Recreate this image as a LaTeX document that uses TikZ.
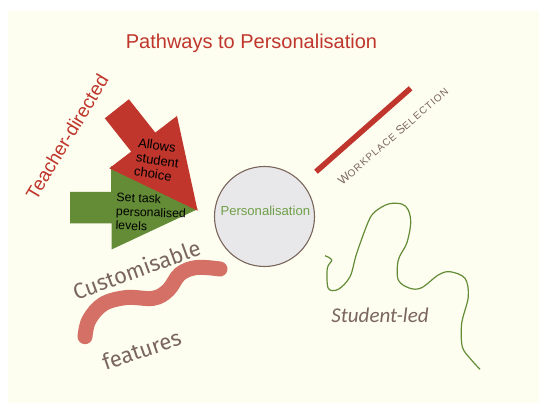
\documentclass[tikz,border=0pt]{standalone}
\usepackage{fontspec}
\setmainfont{Liberation Sans}
\newfontfamily\firafont{Fira Sans}
\newfontfamily\handfont{Carlito}
\usetikzlibrary{calc,positioning}
\definecolor{cream}{RGB}{253,253,240}
\definecolor{pathred}{RGB}{192,54,44}
\definecolor{arrowgreen}{RGB}{100,140,55}
\definecolor{textgreen}{RGB}{112,160,72}
\definecolor{inkbrown}{RGB}{122,102,92}
\definecolor{squiggle}{RGB}{212,112,102}
\definecolor{hubgray}{RGB}{232,232,234}

\begin{document}
\begin{tikzpicture}[x=1pt, y=-1pt,
  bent/.style={font=\firafont\fontsize{22}{22}\selectfont, text=inkbrown, inner sep=0pt},
  arrowtext/.style={align=left, inner sep=0pt, text=black},
  hub/.style={circle, draw=inkbrown, line width=1.1pt, fill=hubgray, minimum size=100pt, inner sep=0pt}]
  \useasboundingbox (0,0) rectangle (539,403);
  % Background
  \fill[cream] (8,11) rectangle (539,403);
  \node[anchor=base, text=pathred, font=\fontsize{20}{22}\selectfont] (title) at (251.5,49) {Pathways to Personalisation};
  % Teacher-directed arrows
  \node[rotate=59, text=pathred, font=\fontsize{19}{20}\selectfont, inner sep=0pt] (teacher) at (67,137) {Teacher-directed};
  \fill[arrowgreen] (70,192) -- (111,192) -- (111,166) -- (198,209) -- (111.5,249.5) -- (111.5,223.5) -- (70,223.5) -- cycle;
  \fill[pathred] (128.9,99.3) -- (155.3,132.6) -- (177,116) -- (197.6,210.7) -- (109.3,168.3) -- (131.2,151.6) -- (104.8,118.3) -- cycle;
  \node[arrowtext, rotate=-8, font=\fontsize{13}{14.5}\selectfont] (choice) at (157.5,160) {Allows\\student\\choice};
  \node[arrowtext, rotate=-2, font=\fontsize{12.3}{14}\selectfont] (levels) at (151,212.5) {Set task\\personalised\\levels};
  % Hub
  \node[hub] (pers) at (264.5,216.5) {};
  \node[text=textgreen, font=\fontsize{13.1}{14}\selectfont, inner sep=0pt] (perstext) at (265.3,210.7) {Personalisation};
  % Workplace selection
  \coordinate (wpA) at (316,171.7);
  \coordinate (wpB) at (410.6,88.3);
  \draw[pathred, line width=5.5pt] (wpA) -- (wpB);
  \node[rotate=41, text=inkbrown, inner sep=0pt, font=\addfontfeature{LetterSpace=10}] (workplace) at (393,136)
    {\fontsize{12}{12}\selectfont W\fontsize{10}{12}\selectfont ORKPLACE \fontsize{12}{12}\selectfont S\fontsize{10}{12}\selectfont ELECTION};
  % Customisable features
  \draw[squiggle, line width=15pt, line cap=round] plot[smooth, tension=0.6] coordinates
    {(85,336.7) (89,320) (103.3,304) (126.7,297.5) (153.3,298.3) (168.3,290) (180,274) (196.7,267.5) (220,269)};
  \node[bent, rotate=20] (custom) at (136.5,269.5) {Customisable};
  \node[bent, rotate=19] (features) at (141.5,350) {features};
  % Student-led
  \draw[arrowgreen, line width=1.2pt] plot[smooth, tension=0.55] coordinates
    {(325,255.7) (331.7,260) (327.3,268.3) (328.3,288.3) (338.3,289.3) (350,276.7) (356.7,253.3) (368.3,221.7) (375,211.7) (388.3,204) (401.7,204) (408.3,210) (410.7,223.3) (406.7,243.3) (398.3,260) (398.3,280) (410,288.3) (421.7,287.7) (438.3,275) (450,271.7) (465,278.3) (468.3,296.7) (461.7,323.3) (462.3,346.7) (470,358.3) (480,369.3)};
  \node[text=inkbrown, font=\handfont\itshape\fontsize{21}{22}\selectfont, inner sep=0pt] (student) at (380,315) {Student-led};
\end{tikzpicture}
\end{document}
